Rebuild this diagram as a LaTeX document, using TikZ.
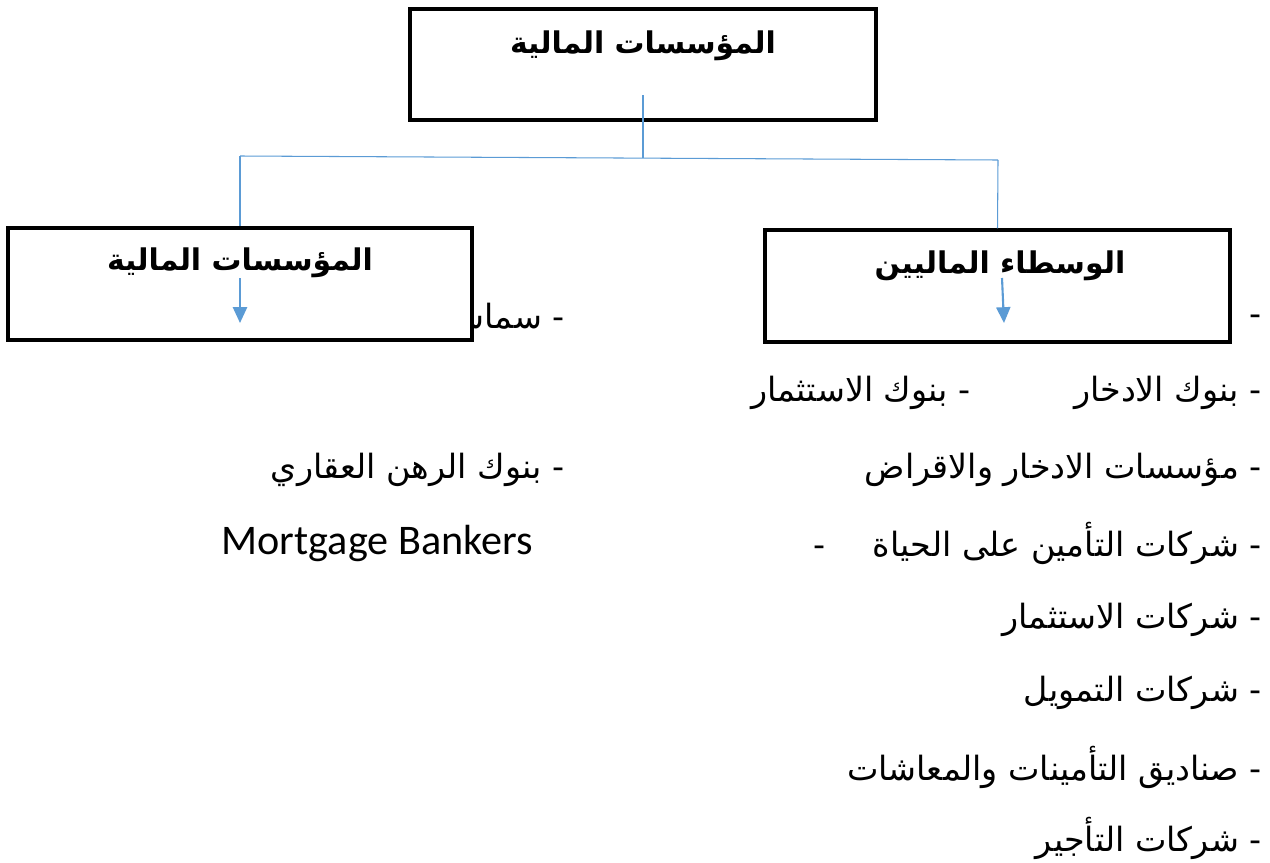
\documentclass[tikz,border=0pt]{standalone}
\usepackage{fontspec}
\setmainfont{Carlito}
\newfontfamily\arabicfont[Script=Arabic]{DejaVu Sans}
\TeXXeTstate=1
\usetikzlibrary{arrows.meta}
\definecolor{linkblue}{RGB}{91,155,213}
\newcommand{\artxt}[1]{{\arabicfont\beginR #1\endR}}
\tikzset{
  box/.style={draw,line width=1.9pt,fill=white,inner sep=0pt},
  head/.style={font=\fontsize{17}{21}\selectfont\bfseries},
  item/.style={anchor=east,inner sep=0pt,font=\fontsize{19}{23}\selectfont},
  link/.style={draw=linkblue,line width=0.6pt},
  arr/.style={draw=linkblue,line width=1.2pt,-{Triangle[length=9pt,width=8pt]}}
}
\begin{document}
\begin{tikzpicture}[x=0.02cm,y=-0.02cm]
  \useasboundingbox (0,0) rectangle (1270,862);
  % text hidden under the left box
  \node[item] (brokers) at (565,320) {\artxt{- سماسرة}};
  % boxes
  \node[box,minimum width=9.32cm,minimum height=2.22cm] (top) at (643,64.5) {};
  \node[box,minimum width=9.28cm,minimum height=2.24cm] (left) at (240,284) {};
  \node[box,minimum width=9.30cm,minimum height=2.24cm] (right) at (997.5,286) {};
  \node[head] (top-t) at (643,46) {\artxt{المؤسسات المالية}};
  \node[head] (left-t) at (240,263) {\artxt{المؤسسات المالية}};
  \node[head] (right-t) at (1000,266) {\artxt{الوسطاء الماليين}};
  % connectors
  \coordinate (drop) at (643,95);
  \coordinate (busL) at (240,156);
  \coordinate (busM) at (643,158);
  \coordinate (busR) at (998,160);
  \draw[link] (drop) -- (busM);
  \draw[link] (busL) -- (busR);
  \draw[link] (busL) -- (left.north);
  \draw[link] (busR) -- (right.north);
  \coordinate (leftA) at (240,278);
  \coordinate (leftB) at (240,323);
  \coordinate (rightA) at (1002,278);
  \coordinate (rightB) at (1004,323);
  \draw[arr] (leftA) -- (leftB);
  \draw[arr] (rightA) -- (rightB);
  % right list
  \node[item] (r0) at (1262,320) {\artxt{-}};
  \node[item] (r1) at (1262,393) {\artxt{- بنوك الادخار\hspace{3.1em}- بنوك الاستثمار}};
  \node[item] (r2) at (1262,470) {\artxt{- مؤسسات الادخار والاقراض}};
  \node[item] (r3) at (1262,543) {\artxt{- شركات التأمين على الحياة\hspace{1.4em}-}};
  \node[item] (r4) at (1262,620) {\artxt{- شركات الاستثمار}};
  \node[item] (r5) at (1262,693) {\artxt{- شركات التمويل}};
  \node[item] (r6) at (1262,767) {\artxt{- صناديق التأمينات والمعاشات}};
  \node[item] (r7) at (1262,838) {\artxt{- شركات التأجير}};
  % left list
  \node[item] (l2) at (565,470) {\artxt{- بنوك الرهن العقاري}};
  \node[item,font=\fontsize{24}{28}\selectfont] (l3) at (533,543) {Mortgage Bankers};
\end{tikzpicture}
\end{document}
